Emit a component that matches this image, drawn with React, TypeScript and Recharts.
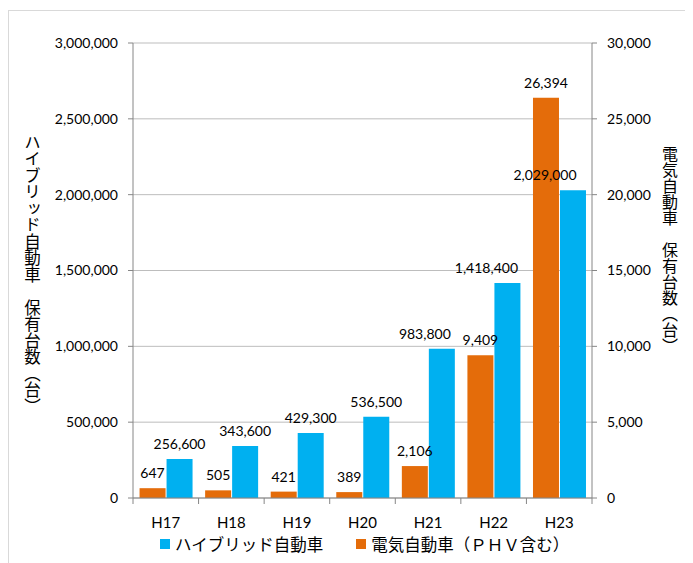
import React from 'react';
import { BarChart, Bar, XAxis, YAxis, CartesianGrid, LabelList } from 'recharts';

const years = ['H17', 'H18', 'H19', 'H20', 'H21', 'H22', 'H23'];
const hybridUnits = [256600, 343600, 429300, 536500, 983800, 1418400, 2029000];
const evUnits = [647, 505, 421, 389, 2106, 9409, 26394];
const leftTicks = [0, 500000, 1000000, 1500000, 2000000, 2500000, 3000000];
const rightTicks = [0, 5000, 10000, 15000, 20000, 25000, 30000];

const hybridName = 'ハイブリッド自動車';
const evName = '電気自動車（ＰＨＶ含む）';
const leftTitle = 'ハイブリッド自動車　保有台数（台）';
const rightTitle = '電気自動車　保有台数（台）';

// Excel moved the last few hybrid labels left so they clear the orange bars
const hybridLabelShift = [0, 0, 0, 0, -17, -21, -28];

const data = years.map((year, i) => ({ year, hybrid: hybridUnits[i], ev: evUnits[i] }));

const W = 685;
const H = 555;
const PLOT_W = 459;
const BLUE = '#00B0F0';
const ORANGE = '#E46C0A';
const AXIS = '#868686';
const GRID = '#BDBDBD';
const NUM_FONT = 'Lato, sans-serif';
const JP_FONT = '"Noto Sans CJK JP", sans-serif';

const fmt = (v: number) => Number(v).toLocaleString('en-US');

function YearTick(props: any) {
  const { x, y, payload, index } = props;
  const band = PLOT_W / years.length;
  const axisY = y - 19;
  return (
    <g>
      <line x1={x - band / 2} x2={x - band / 2} y1={axisY} y2={axisY + 6} stroke={AXIS} />
      {index === years.length - 1 && (
        <line x1={x + band / 2} x2={x + band / 2} y1={axisY} y2={axisY + 6} stroke={AXIS} />
      )}
      <text x={x} y={y} dy="0.71em" textAnchor="middle" fill="#000" fontSize={15} fontFamily={NUM_FONT}>
        {payload.value}
      </text>
    </g>
  );
}

function barLabel(shift: number[]) {
  return (p: any) => {
    const dx = shift[p.index] || 0;
    return (
      <text
        x={p.x + p.width / 2 + dx}
        y={p.y - 10}
        textAnchor="middle"
        fill="#000"
        fontSize={14}
        fontFamily={NUM_FONT}
      >
        {fmt(p.value)}
      </text>
    );
  };
}

export default function App() {
  return (
    <div style={{ position: 'relative', width: W, height: H }}>
      <div
        style={{
          position: 'absolute',
          left: 0,
          top: 2,
          width: W,
          height: H - 2,
          borderTop: '1px solid #D9D9D9',
          borderLeft: '1px solid #D9D9D9',
          boxSizing: 'border-box',
        }}
      />
      <div style={{ position: 'absolute', left: 0, top: 0 }}>
        <BarChart
          width={W}
          height={H}
          data={data}
          margin={{ top: 35, right: 1, bottom: 35, left: 0 }}
          barCategoryGap="10%"
          barGap={1}
        >
          <CartesianGrid yAxisId="left" vertical={false} stroke={GRID} />
          <XAxis
            dataKey="year"
            interval={0}
            height={30}
            tickLine={false}
            tickSize={5}
            tickMargin={14}
            axisLine={{ stroke: AXIS }}
            tick={(p: any) => <YearTick {...p} />}
          />
          <YAxis
            yAxisId="left"
            orientation="left"
            width={125}
            domain={[0, 3000000]}
            ticks={leftTicks}
            interval={0}
            tickFormatter={fmt}
            tickSize={5}
            tickMargin={10}
            axisLine={{ stroke: AXIS }}
            tickLine={{ stroke: AXIS }}
            tick={{ fill: '#000', fontSize: 14, fontFamily: NUM_FONT }}
          />
          <YAxis
            yAxisId="right"
            orientation="right"
            width={100}
            domain={[0, 30000]}
            ticks={rightTicks}
            interval={0}
            tickFormatter={fmt}
            tickSize={5}
            tickMargin={10}
            axisLine={{ stroke: AXIS }}
            tickLine={{ stroke: AXIS }}
            tick={{ fill: '#000', fontSize: 14, fontFamily: NUM_FONT, textAnchor: 'start' }}
          />
          <Bar yAxisId="right" dataKey="ev" name={evName} fill={ORANGE} isAnimationActive={false}>
            <LabelList dataKey="ev" content={barLabel([])} />
          </Bar>
          <Bar yAxisId="left" dataKey="hybrid" name={hybridName} fill={BLUE} isAnimationActive={false}>
            <LabelList dataKey="hybrid" content={barLabel(hybridLabelShift)} />
          </Bar>
        </BarChart>
      </div>

      <div
        style={{
          position: 'absolute',
          left: 16,
          top: 126,
          writingMode: 'vertical-rl',
          fontFamily: JP_FONT,
          fontSize: 16.5,
          lineHeight: 1,
          color: '#000',
        }}
      >
        {leftTitle}
      </div>
      <div
        style={{
          position: 'absolute',
          left: 654,
          top: 138,
          writingMode: 'vertical-rl',
          fontFamily: JP_FONT,
          fontSize: 16,
          lineHeight: 1,
          color: '#000',
        }}
      >
        {rightTitle}
      </div>

      <div
        style={{
          position: 'absolute',
          left: 152,
          top: 526,
          height: 20,
          display: 'flex',
          alignItems: 'center',
          fontFamily: JP_FONT,
          fontSize: 16.5,
          color: '#000',
          whiteSpace: 'nowrap',
        }}
      >
        {[
          { name: hybridName, color: BLUE },
          { name: evName, color: ORANGE },
        ].map((s, i) => (
          <div key={s.name} style={{ display: 'flex', alignItems: 'center', marginRight: i === 0 ? 33 : 0 }}>
            <span style={{ width: 10, height: 10, background: s.color, marginRight: 5, display: 'inline-block' }} />
            <span>{s.name}</span>
          </div>
        ))}
      </div>
    </div>
  );
}
